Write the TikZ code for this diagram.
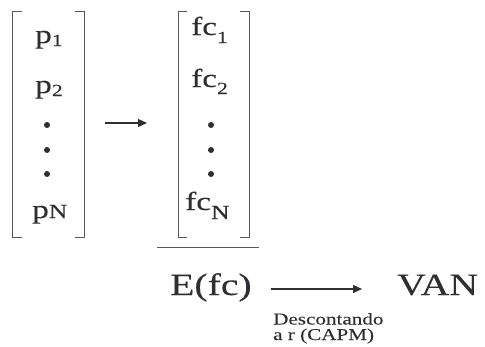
\documentclass[tikz,border=0pt]{standalone}
\usepackage{fontspec}
\setmainfont{Liberation Serif}[FakeStretch=1.28,FakeBold=0.15]
\usetikzlibrary{arrows.meta}
\definecolor{ink}{HTML}{2E2E33}
\tikzset{
  entry/.style={anchor=base west, inner sep=0pt, text=ink, font=\fontsize{26}{26}\selectfont},
  big/.style={anchor=base west, inner sep=0pt, text=ink, font=\fontsize{31}{31}\selectfont},
  note/.style={anchor=base west, inner sep=0pt, text=ink, align=left, font=\fontsize{16.5}{15.5}\selectfont},
  brack/.style={draw=ink!80, line width=1pt},
  arr/.style={draw=ink, line width=1.3pt, -{Triangle[length=9pt,width=8pt]}}
}
\newcommand{\low}[2]{\raisebox{-#1pt}{\fontsize{17}{17}\selectfont #2}}
\begin{document}
\begin{tikzpicture}[x=1pt,y=-1pt]
  \useasboundingbox (0,0) rectangle (485,346);
    % vector of prices
    \draw[brack] (21.5,11) -- (12.5,11) -- (12.5,237) -- (21.5,237);
    \draw[brack] (75,11) -- (84,11) -- (84,237) -- (75,237);
    \node[entry] (p1) at (35,43) {p\low{3}{1}};
    \node[entry] (p2) at (35,93) {p\low{3}{2}};
    \node[entry] (pN) at (32,218) {p{\fontsize{20}{20}\selectfont N}};
    \foreach \y in {125,150,174}
      \fill[ink] (47,\y) circle (3);
    % vector of cash flows
    \draw[brack] (187,11) -- (178,11) -- (178,237) -- (187,237);
    \draw[brack] (240,11) -- (249,11) -- (249,237) -- (240,237);
    \node[entry] (fc1) at (191,35) {fc\low{8}{1}};
    \node[entry] (fc2) at (191,87) {fc\low{7}{2}};
    \node[entry] (fcN) at (185,210) {fc\raisebox{-9pt}{\fontsize{20}{20}\selectfont N}};
    \foreach \y in {125,150,174}
      \fill[ink] (211,\y) circle (3);
    % map prices -> cash flows
    \coordinate (from) at (105,123);
    \coordinate (to) at (147,123);
    \draw[arr] (from) -- (to);
    % expectation
    \draw[brack] (157,247) -- (259,247);
    \node[big] (efc) at (170,295) {E(fc)};
    \node[big] (van) at (397,295) {VAN};
    \draw[arr] ([xshift=19pt,yshift=6pt]efc.base east) -- ([xshift=-35pt,yshift=6pt]van.base west);
    \node[note] (disc) at (273,340) {Descontando\\a r (CAPM)};
\end{tikzpicture}
\end{document}
